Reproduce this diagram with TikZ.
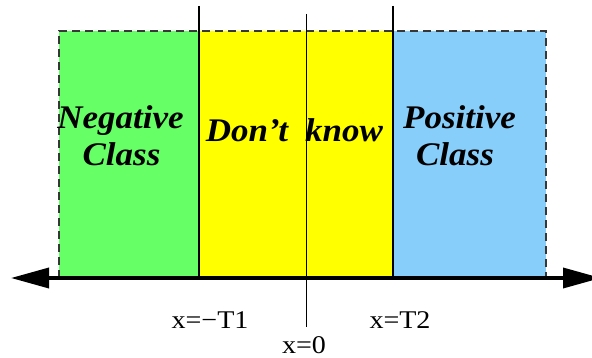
\documentclass[tikz,border=0pt]{standalone}
\usepackage{fontspec}
\setmainfont{Liberation Serif}
\usetikzlibrary{arrows.meta}
\definecolor{neggreen}{RGB}{102,255,102}
\definecolor{dkyellow}{RGB}{255,255,0}
\definecolor{posblue}{RGB}{135,206,250}
\definecolor{dashgray}{RGB}{55,55,55}
\newcommand\hstretch[2]{\scalebox{#1}[1]{#2}}
\tikzset{
  classtext/.style={font=\fontsize{33}{37}\selectfont\bfseries\itshape, anchor=base, inner sep=0pt},
  axislabel/.style={font=\fontsize{25.5}{30}\selectfont, anchor=base, inner sep=0pt},
  threshold/.style={line width=2pt},
  zeroline/.style={line width=1pt},
  axisline/.style={line width=3.5pt, {Triangle[length=38pt,width=20pt]}-{Triangle[length=38pt,width=20pt]}},
  border/.style={dashgray, line width=1.3pt, dash pattern=on 8pt off 5pt}
}
\begin{document}
\begin{tikzpicture}[x=1pt,y=-1pt]
\useasboundingbox (0,0) rectangle (592,358);
% regions
\fill[neggreen] (59,31) rectangle (199,278);
\fill[dkyellow] (199,31) rectangle (393,278);
\fill[posblue] (393,31) rectangle (546,278);
% dashed border
\draw[border] (59,278) -- (59,31) -- (546,31) -- (546,278);
% coordinates
\coordinate (T1top) at (199,6);
\coordinate (T1bot) at (199,278);
\coordinate (T2top) at (393,6);
\coordinate (T2bot) at (393,278);
\coordinate (Ztop) at (306,14);
\coordinate (Zbot) at (306,327);
\coordinate (axL) at (11,278);
\coordinate (axR) at (601,278);
% lines
\draw[threshold] (T1top) -- (T1bot);
\draw[threshold] (T2top) -- (T2bot);
\draw[zeroline] (Ztop) -- (Zbot);
\draw[axisline] (axL) -- (axR);
% texts
\node[classtext] (neg1) at (120.5,128.5) {\hstretch{1.06}{Negative}};
\node[classtext] (neg2) at (121.5,165.5) {\hstretch{1.06}{Class}};
\node[classtext] (dont) at (247,141.5) {\hstretch{1.06}{Don’t}};
\node[classtext] (know) at (344,141.5) {\hstretch{1.06}{know}};
\node[classtext] (pos1) at (459.5,128.5) {\hstretch{1.06}{Positive}};
\node[classtext] (pos2) at (455,165.5) {\hstretch{1.06}{Class}};
\node[axislabel] (lT1) at (210,328) {\hstretch{1.1}{x=−T1}};
\node[axislabel] (lT2) at (400,328) {\hstretch{1.1}{x=T2}};
\node[axislabel] (lZ) at (304,353) {\hstretch{1.1}{x=0}};
\end{tikzpicture}
\end{document}
